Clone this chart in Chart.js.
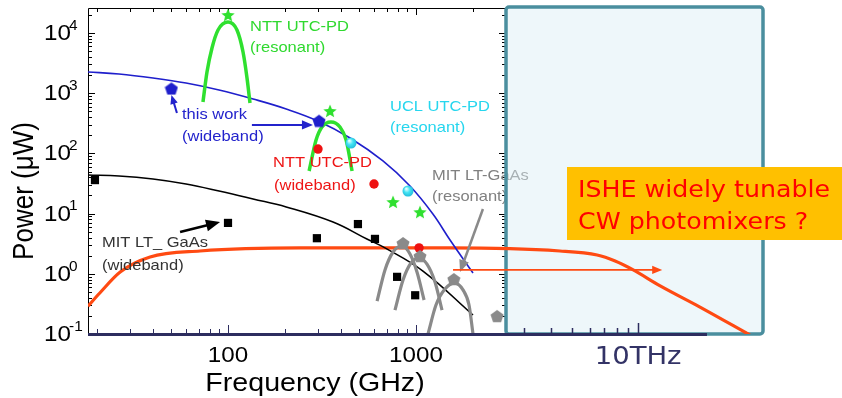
<!DOCTYPE html>
<html>
<head>
<meta charset="utf-8">
<title>Photomixer power vs frequency</title>
<script src="https://cdn.jsdelivr.net/npm/chart.js@4.4.1/dist/chart.umd.min.js"></script>
<style>
  html, body { margin: 0; padding: 0; background: #fff; }
  #wrap { width: 842px; height: 398px; }
</style>
</head>
<body>
<div id="wrap"><canvas id="powerChart" width="842" height="398"></canvas></div>
<script>
// Output power (uW) of THz sources vs frequency (GHz), log-log.

// wideband fit curves
const blueCurveFreq = [18, 26.3, 39.9, 59.8, 89.6, 136, 204, 301, 446, 667, 929, 1230, 1517, 2010];
const blueCurvePow  = [2250, 2085, 1790, 1476, 1130, 801, 547, 345, 180, 74.8, 28.7, 9.84, 3.64, 1.03];
const blackCurveFreq = [18, 26.3, 39.9, 59.8, 89.6, 136, 204, 362, 548, 684, 1089, 2010];
const blackCurvePow  = [43.8, 42.2, 37.6, 31.0, 23.7, 17.5, 12.9, 7.24, 3.78, 2.69, 1.11, 0.207];
const isheFreq = [18, 20.8, 26.7, 38.5, 71, 242, 1517, 5830, 9190, 11460, 14300, 19900, 32400, 59800];
const ishePow  = [0.29, 0.48, 1.07, 1.9, 2.39, 2.69, 2.69, 2.39, 2.05, 1.63, 1.16, 0.63, 0.28, 0.096];

// resonant devices (arcs)
const nttResAFreq = [73.6, 77.3, 82.2, 88.5, 100, 111.6, 120.2, 126.2, 130.9];
const nttResAPow  = [714, 2250, 5640, 11200, 15200, 11200, 4830, 1790, 687];
const nttResBFreq = [270, 294, 316, 353, 394, 425, 457];
const nttResBPow  = [51, 167, 275, 333, 275, 167, 51];
const mitResAFreq = [621, 684, 755, 843, 929, 1012, 1104];
const mitResAPow  = [0.353, 1.16, 2.30, 2.90, 2.13, 1.07, 0.367];
const mitResBFreq = [773, 853, 940, 1038, 1144, 1262, 1375];
const mitResBPow  = [0.25, 0.79, 1.51, 1.83, 1.45, 0.73, 0.25];
const mitResCFreq = [1158, 1277, 1426, 1611, 1778, 1914, 2010];
const mitResCPow  = [0.1, 0.303, 0.56, 0.70, 0.54, 0.303, 0.1];

// measured points
const mitWideFreq = [19.6, 100, 297, 491, 605, 793, 990];
const mitWidePow  = [36, 7, 3.9, 6.7, 3.8, 0.89, 0.44];
const nttWideFreq = [301, 598, 1038];
const nttWidePow  = [118, 31, 2.7];
const uclFreq = [451, 906];
const uclPow  = [149, 23.7];
const nttStarFreq = [100, 349, 755, 1050];
const nttStarPow  = [19900, 506, 15.6, 10.6];
const thisWorkFreq = [50, 305];
const thisWorkPow  = [1200, 350];
const mitResFreq = [853, 1050, 1590, 2700];
const mitResPow  = [3.25, 1.98, 0.82, 0.2];

// axis ticks
const xTickValues = [100, 1000];
const xTickLabels = ['100', '1000'];
const insetTickValue = 10000;
const insetTickLabel = '10THz';
const yTickExps = [-1, 0, 1, 2, 3, 4];

// arrows, [freq, power] -> [freq, power]
const arrowList = [
  { from: [53.5, 469], to: [50, 933], color: '#2323cc', width: 2, head: 9 },
  { from: [134, 297], to: [283, 297], color: '#2323cc', width: 2, head: 11 },
  { from: [55.6, 4.94], to: [90.7, 7.24], color: '#000', width: 2.5, head: 14 },
  { from: [2270, 11.9], to: [1714, 1.07], color: '#8a8a8a', width: 2.5, head: 12 },
  { from: [1574, 1.16], to: [20400, 1.16], color: '#ff4a12', width: 1.8, head: 10 }
];

const XSTRETCH = 1.1;   // the source picture is a bit wider than tall
const SANS = "'Liberation Sans', Arial, sans-serif";
const DEJA = "'DejaVu Sans', sans-serif";
const insetStart = 3010;   // GHz where the light blue inset begins
const navyAxisEnd = 35300; // GHz where the dark bottom axis stops

function pts(xs, ys) {
  return xs.map((x, i) => ({ x: x, y: ys[i] }));
}

function marker(shape, size, fill) {
  const c = document.createElement('canvas');
  c.width = size; c.height = size;
  const g = c.getContext('2d');
  const r = size / 2;
  if (shape === 'ball') {
    const grad = g.createRadialGradient(r * 0.7, r * 0.6, 0.5, r, r, r);
    grad.addColorStop(0, '#e8ffff');
    grad.addColorStop(0.45, fill);
    grad.addColorStop(1, '#1fb8d8');
    g.beginPath(); g.arc(r, r, r - 0.5, 0, Math.PI * 2);
    g.fillStyle = grad; g.fill();
    return c;
  }
  g.beginPath();
  if (shape === 'star') {
    for (let i = 0; i < 10; i++) {
      const rad = i % 2 ? r * 0.45 : r;
      const a = -Math.PI / 2 + i * Math.PI / 5;
      g.lineTo(r + rad * Math.cos(a), r + 0.6 + rad * Math.sin(a));
    }
  } else {
    for (let i = 0; i < 5; i++) {
      const a = -Math.PI / 2 + i * 2 * Math.PI / 5;
      g.lineTo(r + r * 0.98 * Math.cos(a), r + 0.8 + r * 0.98 * Math.sin(a));
    }
  }
  g.closePath();
  g.fillStyle = fill; g.fill();
  return c;
}

function text(ctx, str, x, y, font, color, align, baseline) {
  ctx.save();
  ctx.font = font;
  ctx.fillStyle = color;
  ctx.textAlign = align || 'left';
  ctx.textBaseline = baseline || 'middle';
  ctx.translate(x, y);
  ctx.scale(XSTRETCH, 1);
  ctx.fillText(str, 0, 0);
  ctx.restore();
}

function logTicks(lo, hi) {
  const out = [];
  for (let d = Math.floor(Math.log10(lo)); d <= Math.ceil(Math.log10(hi)); d++) {
    for (let k = 1; k <= 9; k++) {
      const v = k * Math.pow(10, d);
      if (v >= lo * 0.999 && v <= hi * 1.001) out.push({ v: v, major: k === 1 });
    }
  }
  return out;
}

// labels next to the data (pixel positions, left edge / middle)
const notes = [
  { t: 'NTT UTC-PD', x: 250, y: 27, c: '#2fd92f' },
  { t: '(resonant)', x: 250, y: 48, c: '#2fd92f' },
  { t: 'this work', x: 182, y: 115, c: '#2323cc' },
  { t: '(wideband)', x: 182, y: 137, c: '#2323cc' },
  { t: 'NTT UTC-PD', x: 273, y: 163, c: '#ee1515' },
  { t: '(wideband)', x: 274, y: 186, c: '#ee1515' },
  { t: 'UCL UTC-PD', x: 390, y: 107, c: '#26d6ee' },
  { t: '(resonant)', x: 390, y: 128, c: '#26d6ee' },
  { t: 'MIT LT_ GaAs', x: 102, y: 243, c: '#333' },
  { t: '(wideband)', x: 102, y: 266, c: '#333' }
];
const underInsetNotes = [
  { t: 'MIT LT-GaAs', x: 432, y: 176, c: '#808080' },
  { t: '(resonant)', x: 432, y: 197, c: '#808080' }
];

const framePlugin = {
  id: 'frame',
  beforeDatasetsDraw(chart) {
    const ctx = chart.ctx, a = chart.chartArea;
    const xs = chart.scales.x, ys = chart.scales.y, xb = chart.scales.xBox;
    const plotRight = Math.round(xs.getPixelForValue(insetStart));
    ctx.save();
    ctx.strokeStyle = '#000';
    ctx.lineWidth = 1;
    ctx.beginPath();
    ctx.moveTo(a.left + 0.5, a.bottom);
    ctx.lineTo(a.left + 0.5, a.top + 0.5);
    ctx.lineTo(plotRight, a.top + 0.5);
    ctx.stroke();
    ctx.beginPath();
    logTicks(0.1, 26000).forEach(t => {
      const y = Math.round(ys.getPixelForValue(t.v)) + 0.5;
      const len = t.major ? 7 : 4;
      ctx.moveTo(a.left, y); ctx.lineTo(a.left + len, y);
      ctx.moveTo(plotRight, y); ctx.lineTo(plotRight - len, y);
    });
    logTicks(20, 3000).forEach(t => {
      const x = Math.round(xs.getPixelForValue(t.v)) + 0.5;
      const len = t.major ? 7 : 4;
      ctx.moveTo(x, a.top); ctx.lineTo(x, a.top + len);
    });
    ctx.stroke();
    ctx.strokeStyle = '#2d2d5f';
    ctx.beginPath();
    logTicks(20, 3000).forEach(t => {
      const x = Math.round(xs.getPixelForValue(t.v)) + 0.5;
      const len = t.major ? 9 : 5;
      ctx.moveTo(x, a.bottom); ctx.lineTo(x, a.bottom - len);
    });
    ctx.stroke();

    underInsetNotes.forEach(n => text(ctx, n.t, n.x, n.y, '15px ' + SANS, n.c));

    // light blue inset
    ctx.beginPath();
    ctx.roundRect(plotRight, a.top - 1, a.right - plotRight, a.bottom - a.top + 1, 3);
    ctx.fillStyle = 'rgba(218,237,244,0.45)';
    ctx.fill();
    ctx.lineWidth = 3.5;
    ctx.strokeStyle = '#4a8e9e';
    ctx.stroke();

    // inset ticks
    ctx.lineWidth = 1.5;
    ctx.strokeStyle = '#2d2d5f';
    ctx.beginPath();
    logTicks(3000, 10000).forEach(t => {
      const x = Math.round(xb.getPixelForValue(t.v)) + 0.5;
      const len = t.major ? 11 : 6;
      ctx.moveTo(x, a.bottom); ctx.lineTo(x, a.bottom - len);
    });
    ctx.stroke();
    ctx.restore();
  },
  afterDatasetsDraw(chart) {
    const ctx = chart.ctx, a = chart.chartArea;
    const xs = chart.scales.x, ys = chart.scales.y, xb = chart.scales.xBox;
    ctx.save();
    // dark bottom axis
    ctx.strokeStyle = '#2d2d5f';
    ctx.lineWidth = 3;
    ctx.beginPath();
    ctx.moveTo(a.left, a.bottom + 0.5);
    ctx.lineTo(xs.getPixelForValue(navyAxisEnd), a.bottom + 0.5);
    ctx.stroke();

    // arrows
    arrowList.forEach(ar => {
      const x1 = xs.getPixelForValue(ar.from[0]), y1 = ys.getPixelForValue(ar.from[1]);
      const x2 = xs.getPixelForValue(ar.to[0]), y2 = ys.getPixelForValue(ar.to[1]);
      const ang = Math.atan2(y2 - y1, x2 - x1);
      const h = ar.head, w = h * 0.42;
      ctx.strokeStyle = ar.color;
      ctx.fillStyle = ar.color;
      ctx.lineWidth = ar.width;
      ctx.beginPath();
      ctx.moveTo(x1, y1);
      ctx.lineTo(x2 - Math.cos(ang) * h * 0.8, y2 - Math.sin(ang) * h * 0.8);
      ctx.stroke();
      ctx.beginPath();
      ctx.moveTo(x2, y2);
      ctx.lineTo(x2 - Math.cos(ang) * h - Math.sin(ang) * w, y2 - Math.sin(ang) * h + Math.cos(ang) * w);
      ctx.lineTo(x2 - Math.cos(ang) * h + Math.sin(ang) * w, y2 - Math.sin(ang) * h - Math.cos(ang) * w);
      ctx.closePath();
      ctx.fill();
    });

    notes.forEach(n => text(ctx, n.t, n.x, n.y, '15px ' + SANS, n.c));

    // y tick labels 10^n
    yTickExps.forEach(e => {
      const y = ys.getPixelForValue(Math.pow(10, e));
      text(ctx, '10', 44, y + 1, '22px ' + SANS, '#000');
      text(ctx, String(e), 69, y - 7, '14px ' + SANS, '#000');
    });
    // x tick labels
    xTickValues.forEach((v, i) => {
      text(ctx, xTickLabels[i], xs.getPixelForValue(v), 356, '22px ' + SANS, '#000', 'center');
    });
    text(ctx, insetTickLabel, xb.getPixelForValue(insetTickValue), 357, '25px ' + DEJA, '#333366', 'center');

    // axis titles
    text(ctx, 'Frequency (GHz)', 315, 384, '26px ' + SANS, '#000', 'center');
    ctx.save();
    ctx.translate(25, 191);
    ctx.scale(XSTRETCH, 1);
    ctx.rotate(-Math.PI / 2);
    ctx.font = '26px ' + SANS;
    ctx.fillStyle = '#000';
    ctx.textAlign = 'center';
    ctx.textBaseline = 'middle';
    ctx.fillText('Power (\u03bcW)', 0, 0);
    ctx.restore();

    // question box
    ctx.fillStyle = '#ffc000';
    ctx.fillRect(567, 167, 275, 73);
    text(ctx, 'ISHE widely tunable', 578, 197, '23px ' + DEJA, '#ff0000', 'left', 'alphabetic');
    text(ctx, 'CW photomixers ?', 578, 229, '23px ' + DEJA, '#ff0000', 'left', 'alphabetic');
    ctx.restore();
  }
};

function curve(xs, ys, color, width, mono) {
  return {
    data: pts(xs, ys), showLine: true, borderColor: color, borderWidth: width,
    pointRadius: 0, fill: false,
    cubicInterpolationMode: mono ? 'monotone' : 'default', tension: 0.4
  };
}
function dots(xs, ys, style, radius, color) {
  return {
    data: pts(xs, ys), showLine: false, pointStyle: style, pointRadius: radius,
    backgroundColor: color, borderWidth: 0
  };
}

new Chart(document.getElementById('powerChart'), {
  type: 'scatter',
  data: {
    datasets: [
      dots(thisWorkFreq, thisWorkPow, marker('pent', 14, '#1f1fcc'), 7, '#1f1fcc'),
      dots(mitResFreq, mitResPow, marker('pent', 14, '#8a8a8a'), 7, '#8a8a8a'),
      dots(nttStarFreq, nttStarPow, marker('star', 14, '#2fe02f'), 7, '#2fe02f'),
      dots(uclFreq, uclPow, marker('ball', 12, '#44e4f4'), 6, '#44e4f4'),
      dots(nttWideFreq, nttWidePow, 'circle', 4.7, '#ee1111'),
      dots(mitWideFreq, mitWidePow, 'rect', 5.8, '#000'),
      curve(nttResAFreq, nttResAPow, '#2fe02f', 3.5, true),
      curve(nttResBFreq, nttResBPow, '#2fe02f', 3.5, true),
      curve(mitResAFreq, mitResAPow, '#8a8a8a', 3.2, true),
      curve(mitResBFreq, mitResBPow, '#8a8a8a', 3.2, true),
      curve(mitResCFreq, mitResCPow, '#8a8a8a', 3.2, true),
      curve(blueCurveFreq, blueCurvePow, '#1f1fcc', 1.6, false),
      curve(blackCurveFreq, blackCurvePow, '#000', 1.6, false),
      curve(isheFreq, ishePow, '#ff4a12', 3.2, true)
    ]
  },
  options: {
    responsive: false,
    animation: false,
    devicePixelRatio: 1,
    layout: { padding: { top: 8, right: 79, left: 0, bottom: 0 } },
    plugins: { legend: { display: false }, tooltip: { enabled: false } },
    scales: {
      x: {
        type: 'logarithmic', min: 18, max: 70100,
        grid: { display: false }, border: { display: false },
        ticks: { display: false },
        afterFit: s => { s.height = 64; }
      },
      xBox: {
        type: 'logarithmic', axis: 'x', position: 'bottom', min: 30, max: 37400,
        display: false
      },
      y: {
        type: 'logarithmic', min: 0.1, max: 26000,
        grid: { display: false }, border: { display: false },
        ticks: { display: false },
        afterFit: s => { s.width = 88; }
      }
    }
  },
  plugins: [framePlugin]
});
</script>
</body>
</html>
